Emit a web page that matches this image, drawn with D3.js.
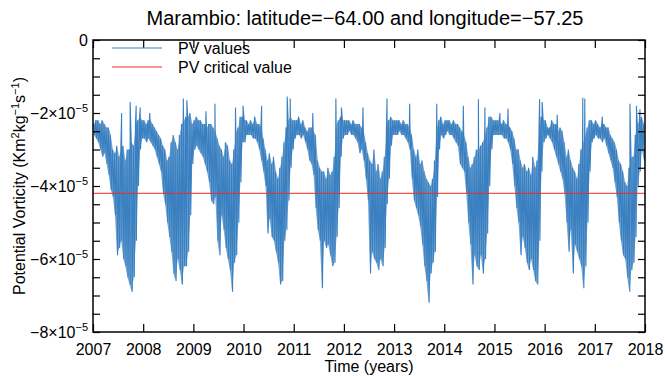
<!DOCTYPE html>
<html>
<head>
<meta charset="utf-8">
<script src="https://cdn.jsdelivr.net/npm/d3@7"></script>
<style>
  body { margin: 0; background: #fff; }
  text { font-family: "Liberation Sans", Arial, sans-serif; fill: #000; }
</style>
</head>
<body>
<div id="chart"></div>
<script>
var margin = {top: 40, right: 20, bottom: 44, left: 93};
var W = 665, H = 376;
var width = W - margin.left - margin.right;
var height = H - margin.top - margin.bottom;

// values are in units of 1e-5 Km^2 kg^-1 s^-1
var unit = 1e-5;
var years = [2007, 2008, 2009, 2010, 2011, 2012, 2013, 2014, 2015, 2016, 2017];
var xTicks = [2007, 2008, 2009, 2010, 2011, 2012, 2013, 2014, 2015, 2016, 2017, 2018];
var yLabelTicks = [-8, -6, -4, -2, 0];
var criticalValue = -4.2;

// upper / lower edge of the daily band, two periods per month (Jan a, Jan b, ... Dec b)
var upper = [
  [-2.3,-2.2,-2.2,-2.3,-2.2,-2.3,-2.4,-2.4,-2.6,-3.0,-3.1,-2.9,-3.2,-3.0,-2.9,-3.3,-3.0,-3.0,-2.8,-2.9,-2.3,-2.2,-2.1,-2.2],
  [-2.2,-2.3,-2.2,-2.2,-2.3,-2.4,-2.5,-2.6,-2.7,-2.9,-3.0,-3.3,-3.2,-2.8,-2.6,-2.8,-3.0,-2.6,-2.3,-2.2,-2.1,-2.1,-2.0,-2.3],
  [-2.2,-2.1,-2.2,-2.2,-2.3,-2.3,-2.4,-2.3,-2.3,-2.4,-2.5,-2.7,-2.9,-3.0,-3.2,-2.8,-2.9,-3.3,-3.4,-3.0,-2.5,-2.4,-2.1,-2.1],
  [-2.2,-2.2,-2.3,-2.2,-2.3,-2.1,-2.3,-2.3,-2.4,-2.7,-3.0,-3.3,-3.1,-3.4,-3.2,-3.6,-3.8,-3.5,-3.2,-2.8,-2.4,-2.2,-2.1,-2.2],
  [-2.2,-2.2,-2.1,-2.3,-2.2,-2.4,-2.5,-2.4,-2.4,-2.5,-2.6,-3.3,-3.5,-3.6,-3.6,-3.8,-3.5,-3.7,-3.6,-3.2,-2.3,-2.2,-2.1,-2.2],
  [-2.2,-2.2,-2.2,-2.3,-2.2,-2.3,-2.3,-2.3,-2.4,-2.5,-2.8,-3.1,-3.3,-3.4,-3.0,-3.6,-3.4,-3.8,-3.6,-3.2,-2.5,-2.2,-2.1,-2.2],
  [-2.2,-2.2,-2.2,-2.3,-2.2,-2.3,-2.3,-2.4,-2.6,-3.0,-3.2,-3.0,-3.4,-3.3,-3.6,-3.8,-3.9,-4.0,-3.8,-3.3,-2.4,-2.2,-2.1,-2.3],
  [-2.2,-2.2,-2.2,-2.3,-2.2,-2.3,-2.3,-2.4,-2.5,-2.6,-2.8,-3.2,-3.5,-3.4,-3.2,-3.0,-3.0,-2.9,-2.8,-2.6,-2.4,-2.1,-2.1,-2.2],
  [-2.2,-2.2,-2.2,-2.3,-2.2,-2.3,-2.3,-2.4,-2.5,-2.7,-3.0,-3.0,-3.3,-3.5,-3.4,-3.6,-3.5,-3.7,-3.2,-3.5,-3.3,-2.5,-2.1,-2.2],
  [-2.2,-2.4,-2.4,-2.2,-2.3,-2.3,-2.5,-2.4,-2.5,-2.8,-3.2,-3.0,-3.3,-3.5,-3.6,-3.8,-3.4,-3.0,-2.8,-2.6,-2.4,-2.2,-2.2,-2.3],
  [-2.2,-2.3,-2.4,-2.3,-2.3,-2.4,-2.4,-2.6,-2.7,-2.8,-3.0,-3.3,-3.4,-3.6,-3.9,-4.0,-3.5,-3.2,-3.2,-2.6,-2.3,-2.2,-2.1,-2.3]
];
var lower = [
  [-2.6,-2.7,-2.8,-3.0,-3.2,-3.1,-3.4,-3.7,-4.1,-4.3,-4.8,-5.9,-5.7,-5.5,-6.0,-6.2,-6.5,-6.7,-6.9,-6.5,-5.5,-4.0,-3.0,-2.7],
  [-2.7,-2.8,-2.7,-2.8,-2.9,-3.0,-3.2,-3.4,-3.6,-4.2,-4.5,-5.0,-5.4,-5.8,-6.4,-6.6,-6.0,-6.3,-6.7,-6.2,-6.2,-5.8,-4.8,-3.4],
  [-3.0,-2.9,-3.0,-3.1,-3.2,-3.4,-3.6,-3.9,-4.4,-4.5,-4.3,-5.5,-5.9,-4.8,-5.2,-5.7,-6.0,-6.3,-6.9,-6.1,-5.9,-5.0,-3.9,-2.8],
  [-2.8,-2.6,-2.6,-2.6,-2.7,-2.7,-2.8,-3.0,-3.3,-3.6,-4.0,-5.3,-4.9,-5.4,-5.5,-5.8,-6.1,-6.7,-6.6,-5.5,-5.2,-4.4,-3.5,-3.0],
  [-2.7,-2.6,-2.6,-2.7,-2.6,-2.8,-3.0,-3.3,-3.4,-3.7,-4.6,-5.2,-5.5,-6.8,-5.5,-5.7,-5.6,-5.9,-6.2,-6.1,-5.4,-4.6,-3.2,-2.7],
  [-2.6,-2.6,-2.5,-2.6,-2.6,-2.7,-2.8,-3.1,-3.0,-3.3,-3.8,-4.4,-6.4,-5.8,-6.0,-6.1,-6.3,-6.0,-6.2,-5.7,-4.5,-3.8,-2.9,-2.6],
  [-2.6,-2.6,-2.5,-2.6,-2.6,-2.7,-2.8,-3.0,-3.8,-4.4,-4.6,-4.8,-5.1,-5.6,-6.2,-6.6,-7.2,-6.4,-6.1,-5.8,-4.3,-3.0,-2.6,-2.7],
  [-2.6,-2.5,-2.6,-2.6,-2.7,-2.8,-2.9,-3.4,-3.5,-3.6,-4.2,-5.0,-5.6,-6.7,-5.9,-6.2,-6.3,-5.9,-6.4,-6.0,-5.3,-4.0,-3.0,-2.6],
  [-2.6,-2.6,-2.6,-2.6,-2.7,-2.7,-2.8,-3.0,-3.4,-4.0,-4.6,-5.0,-5.9,-5.4,-5.7,-6.1,-6.3,-6.0,-6.3,-6.6,-6.7,-5.5,-3.6,-2.8],
  [-2.7,-2.6,-2.7,-2.8,-3.0,-3.2,-3.4,-3.6,-3.8,-4.2,-5.0,-5.8,-5.2,-6.4,-5.6,-5.8,-6.0,-6.2,-6.8,-6.2,-5.0,-3.6,-2.8,-2.7],
  [-2.6,-2.7,-2.7,-2.8,-2.7,-2.9,-3.1,-3.3,-3.5,-3.9,-4.3,-5.0,-5.5,-5.9,-6.0,-6.5,-6.9,-6.3,-6.1,-5.4,-4.0,-3.6,-3.0,-3.3]
];
// isolated upward spikes
var spikeDates = [2007.57, 2007.74, 2007.86, 2007.94, 2008.13, 2008.80, 2008.87, 2009.25, 2009.43, 2009.84,
                  2009.99, 2010.36, 2010.87, 2010.93, 2011.38, 2011.84, 2011.95, 2012.38, 2012.86, 2013.31,
                  2013.85, 2014.38, 2014.68, 2014.81, 2015.11, 2015.27, 2015.90, 2015.95, 2016.25, 2016.76,
                  2016.80, 2017.15, 2017.70, 2017.83, 2017.90];
var spikeValues = [-2.0, -1.7, -1.8, -1.85, -2.0, -1.6, -1.65, -1.95, -1.75, -1.85,
                   -1.8, -1.8, -1.55, -1.6, -2.0, -1.6, -1.85, -1.85, -1.6, -1.75,
                   -1.75, -1.8, -1.62, -1.85, -2.0, -1.88, -1.62, -1.7, -2.05, -1.58,
                   -1.6, -2.1, -1.75, -1.8, -1.9];

var pts = [], band = [];
years.forEach(function(yr, k) {
  upper[k].forEach(function(h, i) {
    var t = yr + i / 24;
    pts.push({t: t + 0.3 / 24, v: h * unit});
    pts.push({t: t + 0.75 / 24, v: lower[k][i] * unit});
    band.push({t: t + 0.5 / 24, hi: h * unit, lo: lower[k][i] * unit});
  });
});
spikeDates.forEach(function(t, i) { pts.push({t: t, v: spikeValues[i] * unit}); });
pts.sort(function(a, b) { return a.t - b.t; });

var blue = "#3a80c1", red = "#ee2a24";

var svg = d3.select("#chart").append("svg")
  .attr("width", W).attr("height", H);

var x = d3.scaleLinear().domain([2007, 2018]).range([margin.left, margin.left + width]);
var y = d3.scaleLinear().domain([-8 * unit, 0]).range([margin.top + height, margin.top]);

// title
svg.append("text")
  .attr("x", 365).attr("y", 25)
  .attr("text-anchor", "middle").style("font-size", "20px")
  .text("Marambio: latitude=\u221264.00 and longitude=\u221257.25");

// dense daily band + zigzag line
var area = d3.area().x(function(d) { return x(d.t); })
  .y0(function(d) { return y(d.lo); }).y1(function(d) { return y(d.hi); });
svg.append("path").datum(band)
  .attr("d", area)
  .attr("fill", blue).attr("fill-opacity", 0.7);

var line = d3.line().x(function(d) { return x(d.t); }).y(function(d) { return y(d.v); });
svg.append("path").datum(pts)
  .attr("d", line)
  .attr("fill", "none")
  .attr("stroke", blue)
  .attr("stroke-width", 1.1);

// critical value
svg.append("line")
  .attr("x1", x(2007)).attr("x2", x(2018))
  .attr("y1", y(criticalValue * unit)).attr("y2", y(criticalValue * unit))
  .attr("stroke", red).attr("stroke-width", 1);

// axes (ticks point inward)
var yTickVals = d3.range(-8, 0.01, 0.5).map(function(v) { return v * unit; });
var axL = svg.append("g").attr("transform", "translate(" + margin.left + ",0)")
  .call(d3.axisLeft(y).tickValues(yTickVals).tickSize(-7).tickFormat(""));
var axR = svg.append("g").attr("transform", "translate(" + (margin.left + width) + ",0)")
  .call(d3.axisRight(y).tickValues(yTickVals).tickSize(-7).tickFormat(""));
var axB = svg.append("g").attr("transform", "translate(0," + (margin.top + height) + ")")
  .call(d3.axisBottom(x).tickValues(xTicks).tickSize(-8).tickPadding(12).tickFormat(d3.format("d")));
var axT = svg.append("g").attr("transform", "translate(0," + margin.top + ")")
  .call(d3.axisTop(x).tickValues(xTicks).tickSize(-8).tickFormat(""));

[axL, axR, axB, axT].forEach(function(a) {
  a.select(".domain").remove();
  a.selectAll(".tick line").attr("stroke", "#000").attr("stroke-width", 1.2);
});
axB.selectAll(".tick text").style("font-size", "16px").attr("fill", "#000")
  .style("font-family", "'Liberation Sans', Arial, sans-serif");

// y labels with superscript
yLabelTicks.forEach(function(v) {
  var t = svg.append("text")
    .attr("x", margin.left - 5).attr("y", y(v * unit) + 6)
    .attr("text-anchor", "end").style("font-size", "16px");
  if (v === 0) { t.text("0"); return; }
  t.append("tspan").text("\u2212" + Math.abs(v) + "\u00d710");
  t.append("tspan").attr("dy", -7).style("font-size", "11px").text("\u22125");
});

// frame
svg.append("rect")
  .attr("x", margin.left).attr("y", margin.top)
  .attr("width", width).attr("height", height)
  .attr("fill", "none").attr("stroke", "#000").attr("stroke-width", 1.5);

// axis titles
svg.append("text")
  .attr("x", margin.left + width / 2).attr("y", 372)
  .attr("text-anchor", "middle").style("font-size", "16px")
  .text("Time (years)");

var yt = svg.append("text")
  .attr("transform", "translate(25," + (margin.top + height / 2) + ") rotate(-90)")
  .attr("text-anchor", "middle").style("font-size", "16px");
yt.append("tspan").text("Potential Vorticity (Km");
yt.append("tspan").attr("dy", -6).style("font-size", "11px").text("2");
yt.append("tspan").attr("dy", 6).text("kg");
yt.append("tspan").attr("dy", -6).style("font-size", "11px").text("\u22121");
yt.append("tspan").attr("dy", 6).text("s");
yt.append("tspan").attr("dy", -6).style("font-size", "11px").text("\u22121");
yt.append("tspan").attr("dy", 6).text(")");

// legend
var legend = [{name: "PV values", color: blue}, {name: "PV critical value", color: red}];
var lg = svg.append("g").selectAll("g").data(legend).enter().append("g")
  .attr("transform", function(d, i) { return "translate(112," + (48 + i * 19) + ")"; });
lg.append("line").attr("x1", 0).attr("x2", 50)
  .attr("stroke", function(d) { return d.color; }).attr("stroke-width", 1.2);
lg.append("text").attr("x", 66).attr("y", 6).style("font-size", "16px")
  .text(function(d) { return d.name; });
</script>
</body>
</html>
